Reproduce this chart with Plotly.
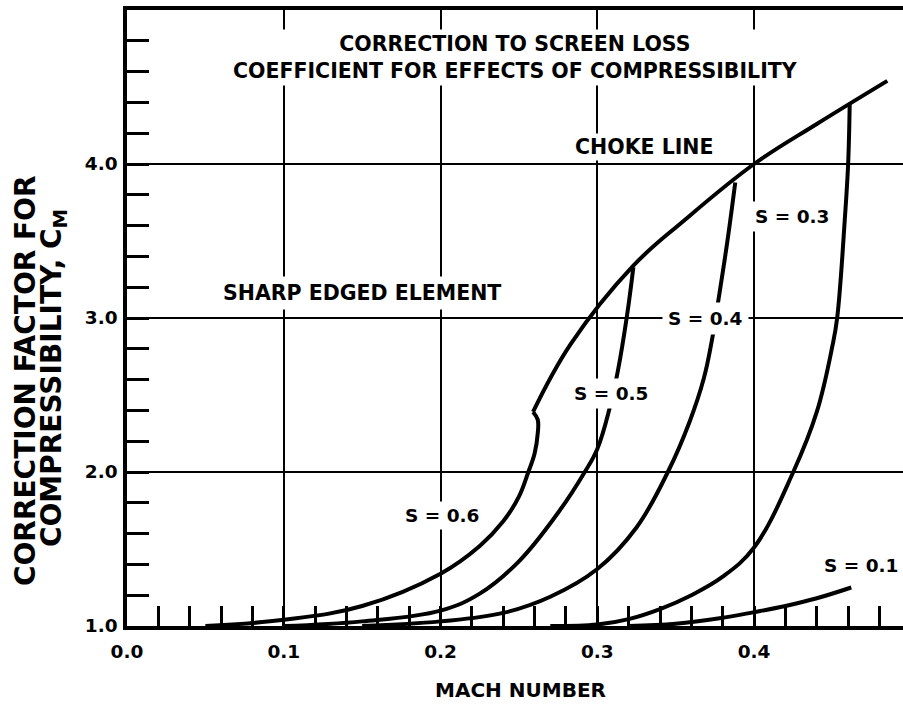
import plotly.graph_objects as go

# ---- curve readings: Mach number vs. correction factor C_M ----
mach_s06 = [0.05, 0.10, 0.15, 0.20, 0.225, 0.240, 0.250, 0.256, 0.260, 0.262, 0.262, 0.259]
cm_s06 = [1.00, 1.04, 1.13, 1.34, 1.52, 1.68, 1.84, 2.00, 2.12, 2.25, 2.34, 2.39]

mach_choke = [0.259, 0.283, 0.323, 0.355, 0.400, 0.440, 0.485]
cm_choke = [2.39, 2.83, 3.34, 3.63, 4.00, 4.26, 4.54]

mach_s05 = [0.10, 0.15, 0.20, 0.225, 0.250, 0.276, 0.292, 0.300, 0.308, 0.313, 0.319, 0.323]
cm_s05 = [1.00, 1.03, 1.10, 1.21, 1.42, 1.75, 2.00, 2.15, 2.42, 2.65, 3.02, 3.33]

mach_s04 = [0.15, 0.20, 0.240, 0.270, 0.300, 0.325, 0.345, 0.359, 0.368, 0.373, 0.377, 0.383, 0.388]
cm_s04 = [1.00, 1.03, 1.085, 1.19, 1.37, 1.64, 2.00, 2.33, 2.61, 2.85, 3.10, 3.50, 3.88]

mach_s03 = [0.27, 0.300, 0.320, 0.340, 0.360, 0.380, 0.400, 0.425, 0.440, 0.450, 0.453, 0.458, 0.460, 0.461]
cm_s03 = [1.00, 1.01, 1.045, 1.11, 1.20, 1.32, 1.51, 2.00, 2.39, 2.82, 3.00, 3.66, 4.00, 4.39]

mach_s01 = [0.32, 0.35, 0.378, 0.400, 0.420, 0.440, 0.462]
cm_s01 = [1.00, 1.015, 1.05, 1.09, 1.13, 1.18, 1.25]

x_ticks = [0.0, 0.1, 0.2, 0.3, 0.4]
y_ticks = [1.0, 2.0, 3.0, 4.0]

# ---- layout geometry ----
W, H = 903, 710
ML, MR, MT, MB = 127, 0, 10, 84
X_RANGE = [0, 0.495]
Y_RANGE = [1, 5]
FONT = "DejaVu Sans"
INK = "black"


def paper_x(px):
    return (px - ML) / (W - ML - MR)


def paper_y(py):
    return (H - MB - py) / (H - MT - MB)


fig = go.Figure()

curves = [
    (mach_s06, cm_s06),
    (mach_choke, cm_choke),
    (mach_s05, cm_s05),
    (mach_s04, cm_s04),
    (mach_s03, cm_s03),
    (mach_s01, cm_s01),
]
for xs, ys in curves:
    fig.add_trace(go.Scatter(
        x=xs, y=ys, mode="lines",
        line=dict(color=INK, width=4, shape="spline", smoothing=1.1),
        showlegend=False, hoverinfo="skip",
    ))

word_font = dict(family=FONT, size=20.5, color=INK, weight="bold")
s_font = dict(family=FONT, size=18.5, color=INK, weight="bold")


def label(text, x, y, font, pad=3):
    fig.add_annotation(
        text=text, x=x, y=y, xref="x", yref="y", showarrow=False,
        xanchor="center", yanchor="middle",
        font=font, bgcolor="white", borderpad=pad,
    )


label("CORRECTION TO SCREEN LOSS<br>COEFFICIENT FOR EFFECTS OF COMPRESSIBILITY",
      0.248, 4.69, word_font, pad=2)
label("CHOKE LINE", 0.330, 4.11, word_font, pad=1)
label("SHARP EDGED ELEMENT", 0.150, 3.16, word_font, pad=4)
label("S = 0.3", 0.424, 3.66, s_font, pad=4)
label("S = 0.4", 0.369, 3.00, s_font, pad=5)
label("S = 0.5", 0.309, 2.51, s_font, pad=4)
label("S = 0.6", 0.201, 1.72, s_font, pad=3)
label("S = 0.1", 0.468, 1.39, s_font, pad=2)

# axis titles
fig.add_annotation(
    text="MACH NUMBER", x=paper_x(520), y=paper_y(690), xref="paper", yref="paper",
    xanchor="center", yanchor="middle", showarrow=False,
    font=dict(family=FONT, size=20, color=INK, weight="bold"),
)
ytitle_font = dict(family=FONT, size=28, color=INK, weight="bold")
fig.add_annotation(
    text="CORRECTION FACTOR FOR", x=paper_x(25), y=paper_y(381),
    xref="paper", yref="paper", xanchor="center", yanchor="middle",
    showarrow=False, textangle=-90, font=ytitle_font,
)
fig.add_annotation(
    text="COMPRESSIBILITY, C<sub>M</sub>", x=paper_x(53), y=paper_y(378),
    xref="paper", yref="paper", xanchor="center", yanchor="middle",
    showarrow=False, textangle=-90, font=ytitle_font,
)

tick_font = dict(family=FONT, size=18.5, color=INK, weight="bold")

fig.update_xaxes(
    range=X_RANGE, tickvals=x_ticks, ticktext=[f"{v:.1f}" for v in x_ticks],
    showgrid=True, gridcolor=INK, gridwidth=2,
    showline=True, linecolor=INK, linewidth=3.5, mirror=True,
    ticks="inside", ticklen=20, tickwidth=2.5, tickcolor=INK,
    tickfont=tick_font, zeroline=False, ticklabelstandoff=6,
    minor=dict(tickmode="linear", tick0=0, dtick=0.02, ticks="inside",
               ticklen=20, tickwidth=2.5, tickcolor=INK, showgrid=False),
)
fig.update_yaxes(
    range=Y_RANGE, tickvals=y_ticks, ticktext=[f"{v:.1f}" for v in y_ticks],
    showgrid=True, gridcolor=INK, gridwidth=2,
    showline=True, linecolor=INK, linewidth=3.5,
    ticks="inside", ticklen=22, tickwidth=2.5, tickcolor=INK,
    tickfont=tick_font, zeroline=False, ticklabelstandoff=2,
    minor=dict(tickmode="linear", tick0=1, dtick=0.2, ticks="inside",
               ticklen=22, tickwidth=2.5, tickcolor=INK, showgrid=False),
)

fig.update_layout(
    width=W, height=H,
    margin=dict(l=ML, r=MR, t=MT, b=MB, pad=0),
    paper_bgcolor="white", plot_bgcolor="white",
    font=dict(family=FONT, color=INK),
)

fig.write_html("out.html")
